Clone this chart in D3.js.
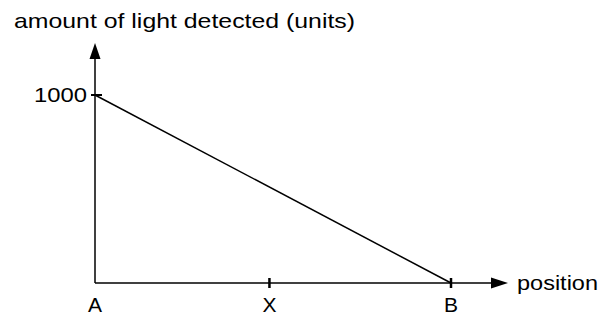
<!DOCTYPE html>
<html>
<head>
<meta charset="utf-8">
<script src="https://cdn.jsdelivr.net/npm/d3@7"></script>
<style>
  body { margin: 0; background: #fff; }
  text { font-family: "Liberation Sans", Arial, sans-serif; fill: #000; }
</style>
</head>
<body>
<svg id="chart" width="604" height="320"></svg>
<script>
const width = 604;
const height = 320;

// positions along the x axis (A..B as 0..1)
const positionLabels = ["A", "X", "B"];
const positionValues = [0, 0.49, 1];

// light series
const seriesPos = [0, 1];
const seriesLight = [1000, 0];

const yTicks = [1000];

const svg = d3.select("#chart");

const x = d3.scaleLinear().domain([0, 1]).range([95, 451]);
const y = d3.scaleLinear().domain([0, 1000]).range([283, 95]);

const x0 = x(0), y0 = y(0);
const xEnd = 508, yTop = 43;

// axes lines
svg.append("line")
  .attr("x1", x0).attr("y1", y0).attr("x2", xEnd - 14).attr("y2", y0)
  .attr("stroke", "#000").attr("stroke-width", 1.5);
svg.append("line")
  .attr("x1", x0).attr("y1", y0).attr("x2", x0).attr("y2", yTop + 12)
  .attr("stroke", "#000").attr("stroke-width", 1.5);

// arrow heads
svg.append("path")
  .attr("d", `M${xEnd},${y0} L${xEnd - 17},${y0 - 5.5} L${xEnd - 17},${y0 + 5.5} Z`)
  .attr("fill", "#000");
svg.append("path")
  .attr("d", `M${x0},${yTop} L${x0 - 5.5},${yTop + 16} L${x0 + 5.5},${yTop + 16} Z`)
  .attr("fill", "#000");

// y ticks
svg.selectAll(".ytick")
  .data(yTicks)
  .enter().append("line")
  .attr("x1", x0 - 4).attr("x2", x0 + 7)
  .attr("y1", d => y(d)).attr("y2", d => y(d))
  .attr("stroke", "#000").attr("stroke-width", 2);

svg.selectAll(".ylabel")
  .data(yTicks)
  .enter().append("text")
  .attr("x", 34)
  .attr("y", d => y(d) + 7)
  .attr("font-size", 20)
  .attr("textLength", 53)
  .attr("lengthAdjust", "spacingAndGlyphs")
  .text(d => d);

// x ticks (skip A, it sits on the y axis)
svg.selectAll(".xtick")
  .data(positionValues.slice(1))
  .enter().append("line")
  .attr("x1", d => x(d)).attr("x2", d => x(d))
  .attr("y1", y0 - 5).attr("y2", y0 + 5)
  .attr("stroke", "#000").attr("stroke-width", 2.5);

svg.selectAll(".xlabel")
  .data(positionLabels)
  .enter().append("text")
  .attr("x", (d, i) => x(positionValues[i]))
  .attr("y", 312)
  .attr("text-anchor", "middle")
  .attr("font-size", 21)
  .text(d => d);

// data line
const line = d3.line()
  .x(d => x(d[0]))
  .y(d => y(d[1]));

svg.append("path")
  .datum(seriesPos.map((p, i) => [p, seriesLight[i]]))
  .attr("d", line)
  .attr("fill", "none")
  .attr("stroke", "#000")
  .attr("stroke-width", 1.5);

// axis titles
svg.append("text")
  .attr("x", 14).attr("y", 28)
  .attr("font-size", 21)
  .attr("textLength", 341)
  .attr("lengthAdjust", "spacingAndGlyphs")
  .text("amount of light detected (units)");

svg.append("text")
  .attr("x", 517).attr("y", 290)
  .attr("font-size", 21)
  .attr("textLength", 81)
  .attr("lengthAdjust", "spacingAndGlyphs")
  .text("position");
</script>
</body>
</html>
